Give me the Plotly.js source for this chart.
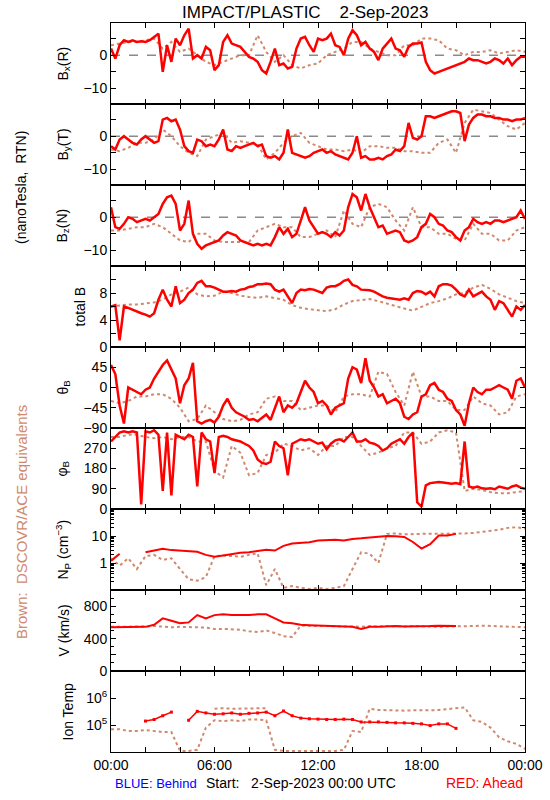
<!DOCTYPE html>
<html><head><meta charset="utf-8">
<script src="https://cdn.plot.ly/plotly-3.0.1.min.js"></script>
<style>html,body{margin:0;padding:0;background:#fff}#chart{width:550px;height:800px}</style>
</head><body><div id="chart"></div>
<script>
// ---- time grids (hours after 2-Sep-2023 00:00 UTC)
const hoursQ = []; for (let i = 0; i <= 96; i++) hoursQ.push(i / 4);   // 15-min
const hoursH = []; for (let i = 0; i <= 48; i++) hoursH.push(i / 2);   // 30-min

// ---- Ahead (red) magnetic field, 15-min samples
const bxAhead = [2,-1,3,4.5,4,4.5,4,4.2,4,4.5,5.5,6.5,-5,3,-2,5,3,6,8,-1,0,-1,2.5,1.5,-4.5,-3,4,6,3.5,3,2.5,1,-0.5,-1,-2,-4.5,-5.5,-2,2,-3,-2.5,-4,-3.5,2,5,5.5,3,1,5,4.5,5,6.5,3,2.5,0,5,7.5,6,3,4,2,1,-1.5,2,3.5,5,2,1.5,-0.5,2.5,3.5,3.5,3.8,-2,-4.5,-5.5,-5,-4.5,-4,-3.5,-3,-2.5,-2,-1,-1.5,-1.5,-2,-2.5,-2,-1,-1.5,-2.5,-1,-3,-1.5,-0.5,-0.5];
const byAhead = [-3,-4,-1,0,-1,-2,-2.5,-1,0,-1,-2,-1.5,5,5.5,4.5,5,2,-3,-4.5,-5,-1,-1.5,-3,-2.5,-3,-1,2,-4,-4.5,-3,-3.5,-3,-2.5,-2,-3,-2.5,-6,-6.5,-6,-7,-5,2,-5,-5.5,-6,-6.5,-6,-5,-4.5,-4,-5,-4.5,-5.5,-6,-6.5,-7,-5,0,-6.5,-6,-7,-7,-6.5,-7,-6,-5.5,-4,-4.5,-3,4,-0.5,-1,0,6,6,5.5,6,6.5,7,7.5,7.5,7,-1.5,3.5,5.5,6.5,6.5,6,6,5.5,5.5,5,5,4.5,5,5,5.5];
const bzAhead = [3,-3,-3.5,-2,0,-0.5,-1.5,-1,-0.5,-1,0,1,4,6,6.5,4,-4,-2,5,-5,-8,-9.5,-8.5,-8,-7.5,-7,-5.5,-4.5,-5,-5.5,-7,-7.5,-8,-8.5,-8,-8.5,-8,-8.5,-6,-3,-5,-3.5,-6,-5,-1,3,-1,-3,-5,-4.5,-5,-6,-4.5,-5.5,-4,3,7,6,2,7,3,0,-3,-2.5,-5,-4.5,-4,-4.5,-7,-7.5,-7,-6,-3,-2,1,0,-2,-2.5,-4,-4.5,-6,-7,-4,-3,-0.5,-1.5,-2,-1.5,-2,-1,-1,-1.5,-1,-0.5,0,2,-0.5];
const btAhead = [6,6.2,1,6,5.8,5.5,5.2,5,4.8,4.5,5,7,8.5,7,6,9,6.5,7,8,8.5,9.5,9.8,9,9,8.8,8.5,8.2,8.2,8.3,8.2,8.5,8.6,8.9,9,9.3,9.3,9.4,9.3,8.5,8.2,8.5,7.5,6.5,8,8.5,8.4,8.6,8.5,8.2,8,8.8,9,9,9.3,9.8,10,9.2,9,8.5,8.5,8.4,8.2,7.8,7.5,7.3,7.2,7.2,7,7.2,7,8,8.3,8.2,7.8,8.2,7.5,9,9.3,9.3,9.1,8.5,7.8,7.5,8.5,7.5,7.8,8.2,7.5,7,5.5,6.8,6.5,5.5,4.5,6,5.5,6.2];
const thetaAhead = [50,30,-40,-80,0,-5,-10,-15,-5,0,20,35,50,60,40,20,-35,5,20,55,-75,-80,-75,-72,-78,-65,-40,-25,-45,-55,-60,-65,-72,-70,-75,-68,-60,-72,-45,-20,-55,-40,-45,-35,-10,15,0,-10,-35,-30,-40,-60,-45,-40,-35,20,45,40,10,65,15,0,-20,-15,-35,-30,-25,-35,-65,-70,-60,-55,-20,-15,5,10,-5,-10,-25,-30,-50,-60,-85,-35,0,-10,-15,-5,-5,0,5,0,-5,-25,15,20,0];
const phiAhead = [300,320,340,345,340,345,340,20,345,340,350,330,80,340,60,330,320,310,330,320,100,340,310,300,160,320,325,320,310,305,300,290,280,260,220,205,200,210,300,280,270,150,290,300,310,305,310,300,290,295,265,290,305,310,300,320,340,300,300,310,295,290,280,260,270,290,300,310,290,320,340,30,10,105,115,118,120,118,115,112,115,110,300,100,95,100,92,90,92,88,100,95,90,100,105,95,90];

// ---- DSCOVR/ACE equivalents (brown) magnetic field, 30-min samples
const bxL1 = [3,3.5,4,4,4.5,5,2,4,1,2,0,-2,-3,-2,-1,0,0,6,1,-2,0,-3,-4,-3,-2.5,0,1,2,4,4,2,1,0,0,3,3,5,5,4.5,2,1.5,0,1,1,1.5,0.5,1,1.5,1];
const byL1 = [-4,-4.5,-3.5,-2,-2,-1,2,0,-3,-5,-6,-1,0,1,-2,-1.5,-2,-2.5,-7,-5,-2,0,1,-2,-3,-4,-4,-4.5,-4,-5,-3,-3,-3.5,-3.5,-4.5,-4.5,-5,-5,-2,-1,-5,4,8,7.5,7,5,3,2,4];
const bzL1 = [-4,-4,-3.5,-3,-3,-2,-3,-5,-7,-7.5,-5,-5,-7,-7.5,-7.5,-7.5,-7.5,-4,-3,-2,-3,-3,-6,-6,-5,-4,-6,2,-2,-3,3,4,3,-1,-4,3,-3,-3,-5,-5,-6.5,-7,-2,-5,-5,-7,-7,-4,-3];
const btL1 = [6,6.2,6.3,6.3,6.5,6.6,7,7.8,8.2,8.8,7.8,7.5,7.6,8.2,8,7.6,7.4,7.3,7.5,7.3,7,6.2,5.8,5.6,5.5,5.3,5.6,6.3,6.8,7,7.1,6.8,6.4,6,5.7,5.4,6,6.5,6.8,7.2,7.8,8,8.8,9.2,8.6,7.8,7.3,6.8,6.5];
const thetaL1 = [-30,-35,-30,-20,-20,-15,-15,-25,-45,-75,-70,-40,-55,-70,-75,-72,-60,-55,-25,-20,-30,-30,-50,-45,-40,-40,-55,-20,-15,-15,-20,35,30,-10,-40,35,-20,-20,-30,-30,-50,-50,-20,-35,-40,-60,-55,-20,-15];
const phiL1 = [320,320,330,330,320,315,320,310,320,320,300,300,170,140,280,250,150,160,240,250,290,280,260,270,240,280,280,320,320,280,240,250,270,280,340,340,290,300,340,350,340,80,90,85,75,70,70,75,80];

// ---- plasma, 30-min samples (null = no data)
const npAhead = [1.2,2.2,null,null,2.5,3.0,3.4,3.0,2.9,2.8,2.6,2.0,1.7,1.9,2.2,2.4,2.5,2.8,3.1,2.9,4.3,5.3,5.6,5.9,6.8,7.0,7.3,6.8,7.8,8.2,8.6,9.5,10,9.8,9.2,6.0,3.4,5.0,10.5,10.5,12,null,null,null,null,null,null,null,null];
const npL1 = [1.5,0.8,1.5,0.6,1.8,2.0,1.3,1.5,0.6,0.25,0.22,0.3,1.8,1.9,1.8,1.7,2.0,2.3,0.15,0.6,0.12,0.14,0.12,0.11,0.12,0.11,0.12,0.14,0.6,2.5,2.2,1.0,12,12.5,11.5,12,12,12,12,12,12,12.5,13,14,15,17,20,21,19];
const vAhead = [540,540,540,540,545,570,650,620,590,600,690,650,690,700,690,690,690,700,700,650,600,590,570,565,560,555,555,550,545,520,545,545,550,555,550,550,555,555,560,560,555,null,null,null,null,null,null,null,null];
const vL1 = [545,545,545,550,550,555,545,540,545,545,540,535,520,520,515,510,490,480,500,470,430,420,560,555,555,555,550,550,550,545,555,550,555,550,550,555,550,550,545,550,550,550,555,560,555,550,545,545,540];
const tempAhead = [null,null,null,null,1.4e5,1.6e5,2.2e5,3.0e5,null,1.5e5,3.2e5,2.8e5,2.5e5,2.6e5,2.8e5,2.5e5,2.7e5,2.8e5,3.0e5,2.2e5,3.3e5,2.2e5,1.8e5,1.7e5,1.65e5,1.6e5,1.6e5,1.65e5,1.6e5,1.3e5,1.3e5,1.3e5,1.25e5,1.2e5,1.2e5,1.15e5,1.1e5,9.5e4,1.1e5,1.1e5,7.5e4,null,null,null,null,null,null,null,null];
const tempL1 = [7e4,7e4,6e4,6e4,6.5e4,6e4,5.5e4,5.5e4,1.1e4,1.1e4,1.2e4,8e4,1.5e5,1.4e5,1.5e5,1.4e5,1.6e5,1.6e5,1.5e5,1.2e4,1.1e4,1.1e4,1.1e4,1.1e4,1.1e4,1.15e4,1.1e4,1.2e4,6e4,5.5e4,4e5,3.6e5,3.5e5,3.5e5,3.4e5,3.5e5,3.4e5,3.5e5,3.6e5,3.8e5,4e5,4.5e5,1.5e5,1.3e5,8e4,3.5e4,2.5e4,2e4,1.3e4];
const tempL1HiHours = [6,6.5,7,7.5,8,8.5,9];
const tempL1Hi = [4e5,4.2e5,4e5,4e5,4.1e5,4e5,4.2e5];

// ---- labels
const panelLabels = ['B<sub>x</sub>(R)','B<sub>y</sub>(T)','B<sub>z</sub>(N)','total B','θ<sub>B</sub>','φ<sub>B</sub>','N<sub>P</sub> (cm<sup>−3</sup>)','V (km/s)','Ion Temp'];
const labelPx = [63,63,63,80,63,62,63,63,67];
const xTickVals = [0,2,4,6,8,10,12,14,16,18,20,22,24];
const xTickText = ['00:00','','','06:00','','','12:00','','','18:00','','','00:00'];

const RED = '#ff0000', BROWN = '#d0896e';
const FONT = 'Liberation Sans, Arial, sans-serif';

const yCfg = [
  {range:[-14.7,9.7], tickvals:[-10,-5,0,5], ticktext:['−10','','0','']},
  {range:[-14.7,9.7], tickvals:[-10,-5,0,5], ticktext:['−10','','0','']},
  {range:[-14.7,9.7], tickvals:[-10,-5,0,5], ticktext:['−10','','0','']},
  {range:[0,12], tickvals:[0,2,4,6,8,10], ticktext:['0','','4','','8','']},
  {range:[-90,90], tickvals:[-90,-45,0,45], ticktext:['−90','−45','0','45']},
  {range:[0,360], tickvals:[0,90,180,270], ticktext:['0','90','180','270']},
  {type:'log', range:[-1,2], tickvals:[1,10], ticktext:['1','10'],
   minor:{tickvals:[0.2,0.3,0.4,0.5,0.6,0.7,0.8,0.9,2,3,4,5,6,7,8,9,20,30,40,50,60,70,80,90], ticks:'inside', ticklen:3, tickcolor:'#000'}},
  {range:[0,1000], tickvals:[0,200,400,600,800], ticktext:['0','','400','','800'],
   minor:{tickvals:[100,300,500,700,900], ticks:'inside', ticklen:3, tickcolor:'#000'}},
  {type:'log', range:[4,7], tickvals:[1e5,1e6], ticktext:['10<sup>5</sup>','10<sup>6</sup>']}
];

const N = 9;
const layout = {
  width:550, height:800, showlegend:false,
  paper_bgcolor:'#fff', plot_bgcolor:'#fff',
  margin:{l:111, r:25, t:23, b:48},
  font:{family:FONT, size:14, color:'#000'},
  title:{text:'IMPACT/PLASTIC    2-Sep-2023', x:0.555, xanchor:'center', y:0.985, yanchor:'middle', font:{family:FONT, size:17, color:'#000'}},
  annotations:[], shapes:[]
};
for (let i = 0; i < N; i++) {
  const s = i === 0 ? '' : String(i + 1);
  const top = 1 - i / N, bot = 1 - (i + 1) / N;
  layout['xaxis' + s] = {
    domain:[0,1], anchor:'y' + s, range:[0,24], tickvals:xTickVals, ticktext:xTickText,
    showticklabels: i === N - 1, ticks:'inside', ticklen:5, tickcolor:'#000',
    showline:true, linecolor:'#000', linewidth:1, mirror:'ticks', showgrid:false, zeroline:false,
    tickfont:{family:FONT, size:14}
  };
  layout['yaxis' + s] = Object.assign({
    domain:[bot, top], anchor:'x' + s, ticks:'inside', ticklen:5, tickcolor:'#000',
    showline:true, linecolor:'#000', linewidth:1, mirror:'ticks', showgrid:false, zeroline:false,
    tickmode:'array', tickfont:{family:FONT, size:14}
  }, yCfg[i]);
  layout.annotations.push({
    xref:'paper', yref:'paper', x:(labelPx[i] - 111) / 414, y:(top + bot) / 2,
    text:panelLabels[i], textangle:-90, showarrow:false, xanchor:'center', yanchor:'middle',
    font:{family:FONT, size:14, color:'#000'}
  });
  if (i < 3) layout.shapes.push({type:'line', xref:'x' + s, yref:'y' + s, x0:0, x1:24, y0:0, y1:0,
    line:{color:'#8a8a8a', width:1.5, dash:'dash'}, layer:'below'});
}
const py = p => 1 - (p - 23) / 729, px = p => (p - 111) / 414;
layout.annotations.push(
  {xref:'paper', yref:'paper', x:px(21), y:py(188), xanchor:'center', yanchor:'middle', text:'(nanoTesla,  RTN)', textangle:-90, showarrow:false, font:{family:FONT, size:14, color:'#000'}},
  {xref:'paper', yref:'paper', x:px(21), y:py(522), xanchor:'center', yanchor:'middle', text:'Brown:  DSCOVR/ACE equivalents', textangle:-90, showarrow:false, font:{family:FONT, size:15, color:BROWN}},
  {xref:'paper', yref:'paper', x:px(113), y:py(783), xanchor:'left', yanchor:'middle', text:'BLUE: Behind', showarrow:false, font:{family:FONT, size:13, color:'#0000ff'}},
  {xref:'paper', yref:'paper', x:px(204), y:py(783), xanchor:'left', yanchor:'middle', text:'Start:   2-Sep-2023 00:00 UTC', showarrow:false, font:{family:FONT, size:14, color:'#000'}},
  {xref:'paper', yref:'paper', x:px(525), y:py(783), xanchor:'right', yanchor:'middle', text:'RED: Ahead', showarrow:false, font:{family:FONT, size:14, color:RED}}
);

const traces = [];
function add(panel, x, y, color, kind) {
  const s = panel === 0 ? '' : String(panel + 1);
  const t = {x:x, y:y, xaxis:'x' + s, yaxis:'y' + s, type:'scatter', connectgaps:false, hoverinfo:'skip'};
  if (kind === 'brown') { t.mode = 'lines'; t.line = {color:color, width:2, dash:'dot'}; }
  else if (kind === 'dots') { t.mode = 'lines+markers'; t.line = {color:color, width:1.5}; t.marker = {color:color, size:3, symbol:'square'}; }
  else { t.mode = 'lines'; t.line = {color:color, width:kind === 'thick' ? 2.5 : 2}; }
  traces.push(t);
}
const brownSets = [bxL1, byL1, bzL1, btL1, thetaL1, phiL1, npL1, vL1, tempL1];
const redSets = [bxAhead, byAhead, bzAhead, btAhead, thetaAhead, phiAhead, npAhead, vAhead, tempAhead];
for (let i = 0; i < N; i++) {
  add(i, hoursH, brownSets[i], BROWN, 'brown');
  if (i === 8) add(8, tempL1HiHours, tempL1Hi, BROWN, 'brown');
  add(i, i < 6 ? hoursQ : hoursH, redSets[i], RED, i === 8 ? 'dots' : (i < 6 ? 'thick' : 'line'));
}
Plotly.newPlot('chart', traces, layout, {staticPlot:true, displayModeBar:false});
</script></body></html>
